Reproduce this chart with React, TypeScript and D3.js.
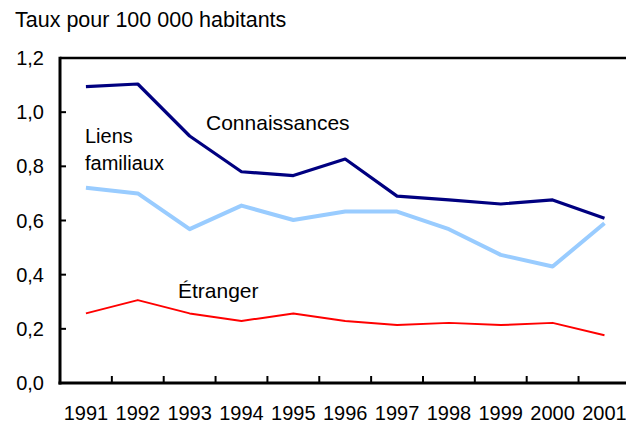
import React from "react";
import * as d3 from "d3";

const years = ["1991","1992","1993","1994","1995","1996","1997","1998","1999","2000","2001"];
const connaissances = [1.094, 1.104, 0.912, 0.780, 0.766, 0.827, 0.690, 0.676, 0.661, 0.676, 0.608];
const liensFamiliaux = [0.721, 0.700, 0.568, 0.655, 0.602, 0.633, 0.633, 0.568, 0.473, 0.430, 0.590];
const etranger = [0.257, 0.306, 0.257, 0.229, 0.257, 0.229, 0.214, 0.222, 0.214, 0.222, 0.176];
const yTicks = [0, 0.2, 0.4, 0.6, 0.8, 1.0, 1.2];

const W = 626, H = 426;
const left = 60, right = 630.4, top = 58, bottom = 383;
const FONT = "Liberation Sans, Arial, sans-serif";

export default function App() {
  const x = d3.scaleBand<string>().domain(years).range([left, right]).padding(0);
  const y = d3.scaleLinear().domain([0, 1.2]).range([bottom, top]);
  const bw = x.bandwidth();
  const cx = (i: number) => (x(years[i]) as number) + bw / 2;
  const line = d3.line<number>().x((_, i) => cx(i)).y((d) => y(d));
  const fmt = (v: number) => d3.format(".1f")(v).replace(".", ",");

  return (
    <svg width={W} height={H} style={{ position: "fixed", left: 0, top: 0, display: "block", background: "#fff" }} fontFamily={FONT}>
      <text x={15} y={27} fontSize={21.5} fill="#000">Taux pour 100 000 habitants</text>
      {/* frame */}
      <line x1={left} x2={W} y1={top} y2={top} stroke="#000" strokeWidth={2.5} />
      <line x1={left} x2={left} y1={top - 1.25} y2={bottom + 1.5} stroke="#000" strokeWidth={3} />
      <line x1={left - 1.5} x2={W} y1={bottom} y2={bottom} stroke="#000" strokeWidth={3} />
      {/* y ticks */}
      {yTicks.map((t) => (
        <g key={t}>
          {t > 0 && t < 1.2 && <line x1={left} x2={left + 6} y1={y(t)} y2={y(t)} stroke="#000" strokeWidth={2} />}
          <text x={44} y={y(t) + 7} textAnchor="end" fontSize={20} fill="#000">{fmt(t)}</text>
        </g>
      ))}
      {/* x ticks */}
      {years.slice(1).map((yr) => (
        <line key={yr} x1={x(yr) as number} x2={x(yr) as number} y1={bottom} y2={bottom - 7} stroke="#000" strokeWidth={2} />
      ))}
      {years.map((yr, i) => (
        <text key={yr} x={cx(i)} y={420} textAnchor="middle" fontSize={20} fill="#000">{yr}</text>
      ))}
      {/* series */}
      <path d={line(liensFamiliaux) as string} fill="none" stroke="#99CCFF" strokeWidth={4} strokeLinejoin="round" />
      <path d={line(connaissances) as string} fill="none" stroke="#000080" strokeWidth={3.2} strokeLinejoin="round" />
      <path d={line(etranger) as string} fill="none" stroke="#FF0000" strokeWidth={2} strokeLinejoin="round" />
      {/* labels */}
      <text x={206} y={130} fontSize={21} fill="#000">Connaissances</text>
      <text x={85} y={143} fontSize={20} fill="#000">Liens</text>
      <text x={85} y={170} fontSize={20} fill="#000">familiaux</text>
      <text x={178} y={298} fontSize={21} fill="#000">Étranger</text>
    </svg>
  );
}
